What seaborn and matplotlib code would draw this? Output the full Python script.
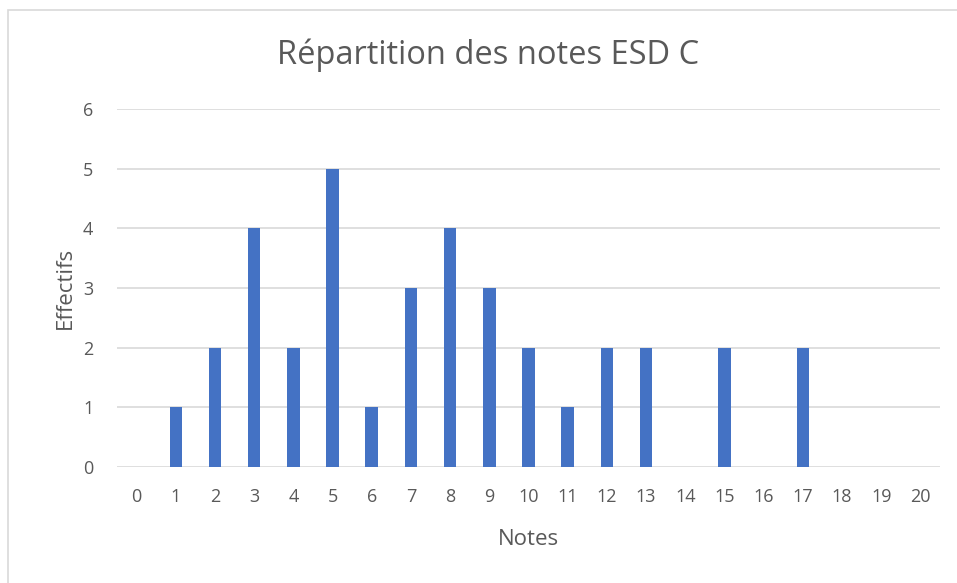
import matplotlib
matplotlib.use("Agg")
import matplotlib.pyplot as plt
import seaborn as sns
import pandas as pd
from matplotlib.patches import Rectangle

notes = list(range(21))
effectifs = [0, 1, 2, 4, 2, 5, 1, 3, 4, 3, 2, 1, 2, 2, 0, 2, 0, 2, 0, 0, 0]
title = "Répartition des notes ESD C"
xlabel = "Notes"
ylabel = "Effectifs"

sns.set_theme(style="white")
plt.rcParams['font.family'] = ['Open Sans', 'DejaVu Sans']
text_color = "#595959"

df = pd.DataFrame({"Notes": [str(n) for n in notes], "Effectifs": effectifs})

fig = plt.figure(figsize=(9.57, 5.83), dpi=100)
fig.patches.append(Rectangle((8 / 957, -0.1), 1.2, 1 - 10 / 583 + 0.1,
                             transform=fig.transFigure, fill=False,
                             edgecolor="#D9D9D9", linewidth=1.2))
ax = fig.add_axes([117 / 957, 1 - 467 / 583, (940 - 117) / 957, (467 - 109) / 583])

sns.barplot(data=df, x="Notes", y="Effectifs", ax=ax, color="#4472C4",
            width=0.32, saturation=1, order=[str(n) for n in notes],
            linewidth=0, edgecolor="none")

ax.set_ylim(0, 6)
ax.set_xlim(-0.5, 20.5)
ax.set_yticks(range(7))
ax.yaxis.grid(True, color="#D9D9D9", linewidth=1.2)
ax.set_axisbelow(True)
for s in ax.spines.values():
    s.set_visible(False)
ax.tick_params(axis="both", length=0, labelsize=13, colors=text_color)
ax.tick_params(axis="x", pad=15)
ax.tick_params(axis="y", pad=17)
ax.set_xlabel(xlabel, fontsize=16, color=text_color, labelpad=17)
ax.set_ylabel(ylabel, fontsize=16, color=text_color, labelpad=5)
fig.text(488 / 957, 1 - 55 / 583, title, ha="center", va="center",
         fontsize=23.5, color=text_color)

fig.savefig("out.png", dpi=100)
